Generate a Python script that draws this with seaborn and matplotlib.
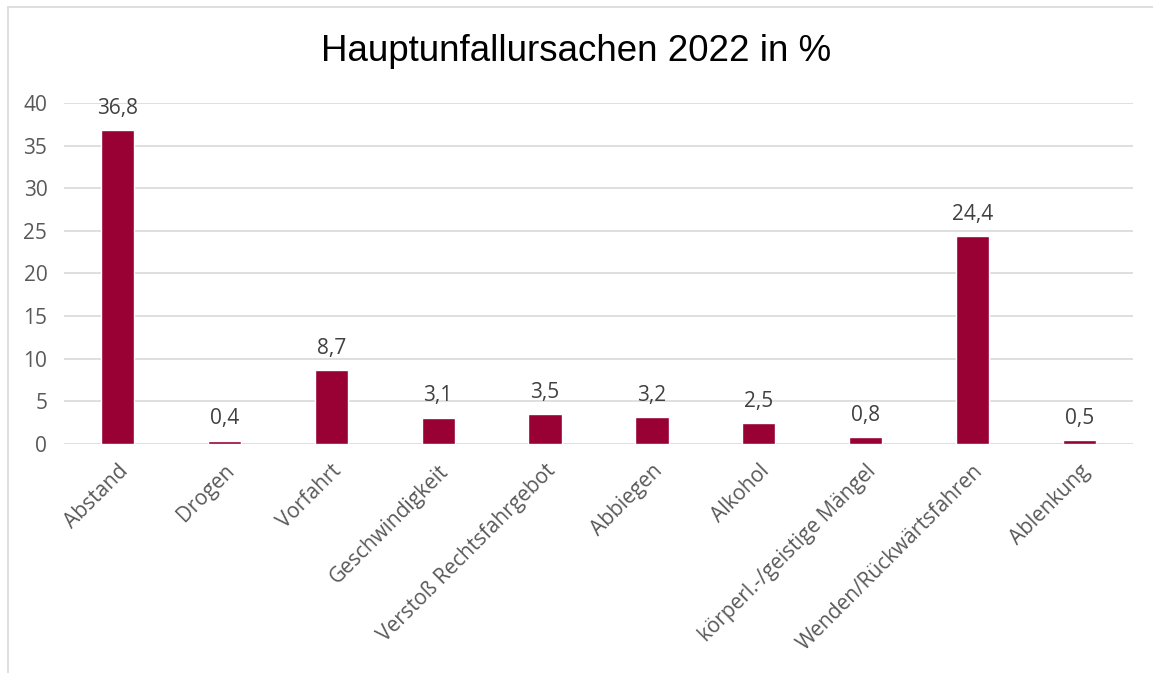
import matplotlib
matplotlib.use("Agg")
import matplotlib.pyplot as plt
import seaborn as sns
import pandas as pd
from matplotlib.lines import Line2D

causes = ["Abstand", "Drogen", "Vorfahrt", "Geschwindigkeit", "Verstoß Rechtsfahrgebot",
          "Abbiegen", "Alkohol", "körperl.-/geistige Mängel", "Wenden/Rückwärtsfahren", "Ablenkung"]
shares = [36.8, 0.4, 8.7, 3.1, 3.5, 3.2, 2.5, 0.8, 24.4, 0.5]
y_ticks = [0, 5, 10, 15, 20, 25, 30, 35, 40]

df = pd.DataFrame({"Ursache": causes, "Anteil": shares})

sns.set_style("white")
plt.rcParams['font.family'] = ['Open Sans', 'DejaVu Sans']

fig = plt.figure(figsize=(11.53, 6.73), dpi=100)
ax = fig.add_axes([0.0555, 0.3403, 0.9272, 0.5067])

sns.barplot(data=df, x="Ursache", y="Anteil", color="#990033", width=0.31,
            saturation=1, ax=ax, zorder=3)

ax.set_ylim(0, 40)
ax.set_yticks(y_ticks)
ax.set_xlim(-0.5, len(causes) - 0.5)
ax.grid(axis="y", color="#d9d9d9", linewidth=1.2, zorder=0)
for s in ax.spines.values():
    s.set_visible(False)
ax.set_xlabel("")
ax.set_ylabel("")
ax.tick_params(axis="both", length=0, labelsize=15, colors="#595959")
ax.tick_params(axis="y", pad=12)
ax.tick_params(axis="x", pad=12)
ax.set_xticks(range(len(causes)))
ax.set_xticklabels(causes, rotation=45, ha="right", rotation_mode="anchor")

for i, v in enumerate(shares):
    ax.annotate(f"{v:.1f}".replace(".", ","), (i, v), xytext=(0, 8), textcoords="offset points",
                ha="center", va="bottom", fontsize=15, color="#404040")

fig.text(0.5, 0.924, "Hauptunfallursachen 2022 in %", ha="center", va="center",
         fontsize=26.5, color="black", family=["Liberation Sans", "DejaVu Sans"])

# light frame around the chart area
fig.add_artist(Line2D([8/1153, 8/1153], [0, 1 - 7/673], color="#d9d9d9", linewidth=1.2))
fig.add_artist(Line2D([8/1153, 1], [1 - 7/673, 1 - 7/673], color="#d9d9d9", linewidth=1.2))

fig.savefig("out.png", dpi=100, facecolor="white")
